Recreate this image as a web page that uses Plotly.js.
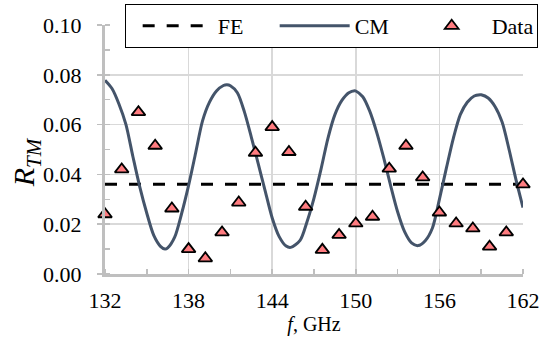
<!DOCTYPE html>
<html>
<head>
<meta charset="utf-8">
<script src="https://cdn.plot.ly/plotly-3.0.1.min.js"></script>
<style>html,body{margin:0;padding:0;background:#fff;}#chart{width:552px;height:339px;}</style>
</head>
<body>
<div id="chart"></div>
<script>
// FE (finite element) result: constant reflection
const feFreq = [132, 162];
const feR = [0.036, 0.036];

// CM (coupled-mode) curve
const cmFreq = [132, 132.5, 133, 133.5, 134, 134.5, 135, 135.5, 136, 136.31, 136.5, 137, 137.5, 138, 138.5, 139, 139.5, 140, 140.5, 140.75,
  141, 141.5, 142, 142.5, 143, 143.5, 144, 144.5, 145, 145.33, 146, 146.5, 147, 147.5, 148, 148.5, 149, 149.5, 149.92,
  150, 150.5, 151, 151.5, 152, 152.5, 153, 153.5, 154, 154.47, 155, 155.5, 156, 156.5, 157, 157.5, 158, 158.5, 158.93,
  159, 159.5, 160, 160.5, 161, 161.5, 162];
const cmR = [0.0778, 0.0745, 0.0683, 0.0601, 0.0472, 0.0349, 0.0244, 0.0155, 0.0110, 0.0100, 0.0105, 0.0148, 0.0243, 0.0356, 0.0485, 0.0615, 0.0690, 0.0735, 0.0757, 0.0760,
  0.0756, 0.0728, 0.0652, 0.0550, 0.0442, 0.0333, 0.0225, 0.0150, 0.0112, 0.0107, 0.0135, 0.0210, 0.0305, 0.0420, 0.0545, 0.0640, 0.0697, 0.0728, 0.0736,
  0.0735, 0.0712, 0.0654, 0.0569, 0.0467, 0.0355, 0.0250, 0.0170, 0.0125, 0.0114, 0.0135, 0.0185, 0.0300, 0.0425, 0.0545, 0.0640, 0.0690, 0.0715, 0.0720,
  0.0720, 0.0707, 0.0672, 0.0610, 0.0500, 0.0378, 0.0267];

// Measured data points
const dataFreq = [132, 133.2, 134.4, 135.6, 136.8, 138, 139.2, 140.4, 141.6, 142.8, 144, 145.2, 146.4, 147.6, 148.8, 150, 151.2, 152.4, 153.6, 154.8, 156, 157.2, 158.4, 159.6, 160.8, 162];
const dataR = [0.0240, 0.0420, 0.0650, 0.0515, 0.0263, 0.0100, 0.0063, 0.0167, 0.0287, 0.0487, 0.0590, 0.0490, 0.0270, 0.0097, 0.0157, 0.0203, 0.0230, 0.0423, 0.0515, 0.0388, 0.0247, 0.0203, 0.0183, 0.0110, 0.0167, 0.0360];

const xTicks = [132, 138, 144, 150, 156, 162];
const yTicks = [0, 0.02, 0.04, 0.06, 0.08, 0.10];

const serif = '"Liberation Serif", "Times New Roman", Times, serif';

const traces = [
  {x: feFreq, y: feR, name: 'FE', mode: 'lines', type: 'scatter', legendrank: 1, cliponaxis: false,
   line: {color: '#000000', width: 3, dash: '12px,12px'}},
  {x: cmFreq, y: cmR, name: 'CM', mode: 'lines', type: 'scatter', legendrank: 2, cliponaxis: false,
   line: {color: '#44546a', width: 3, shape: 'spline', smoothing: 0.8}},
  {x: dataFreq, y: dataR, name: 'Data', mode: 'markers', type: 'scatter', legendrank: 3, cliponaxis: false,
   marker: {symbol: 'triangle-up', size: 12, color: '#ff7c80', line: {color: '#000000', width: 1.8}}}
];

const layout = {
  width: 552, height: 339,
  margin: {l: 105, r: 29, t: 25, b: 65, autoexpand: false},
  paper_bgcolor: '#ffffff', plot_bgcolor: '#ffffff',
  font: {family: serif, size: 22, color: '#000000'},
  showlegend: true,
  legend: {orientation: 'h', x: 1.0351, y: 1.0843, xanchor: 'right', yanchor: 'top',
    bgcolor: '#ffffff', bordercolor: '#000000', borderwidth: 1,
    font: {family: serif, size: 22, color: '#000000'}, itemwidth: 70, indentation: 12,
    entrywidth: 40, entrywidthmode: 'pixels', traceorder: 'normal'},
  xaxis: {range: [132, 162], tickvals: xTicks, ticktext: xTicks.map(String),
    showgrid: true, gridcolor: '#d9d9d9', gridwidth: 1.5, zeroline: false,
    showline: true, linecolor: '#bfbfbf', linewidth: 3, ticks: '', ticklabelstandoff: 5,
    minor: {dtick: 3, tick0: 132, ticks: 'inside', ticklen: 5, tickcolor: '#bfbfbf', tickwidth: 1.5, showgrid: false},
    tickfont: {family: serif, size: 22, color: '#000000'},
    title: {text: '<i>f</i>, GHz', font: {family: serif, size: 20, color: '#000000'}, standoff: 0}},
  yaxis: {range: [0, 0.1], tickvals: yTicks, ticktext: yTicks.map(v => v.toFixed(2)),
    showgrid: true, gridcolor: '#d9d9d9', gridwidth: 1.5, zeroline: false,
    showline: true, linecolor: '#bfbfbf', linewidth: 3, ticks: 'outside', ticklen: 5, tickcolor: '#bfbfbf', tickwidth: 1.5,
    ticklabelstandoff: 11,
    minor: {dtick: 0.01, tick0: 0, ticks: 'inside', ticklen: 5, tickcolor: '#bfbfbf', tickwidth: 1.5, showgrid: false},
    tickfont: {family: serif, size: 22, color: '#000000'}},
  annotations: [
    {text: '<i>R</i><sub><i>TM</i></sub>', xref: 'paper', yref: 'paper', x: -0.188, y: 0.45,
     xanchor: 'center', yanchor: 'middle', textangle: -90, showarrow: false,
     font: {family: serif, size: 30, color: '#000000'}}
  ]
};

Plotly.newPlot('chart', traces, layout, {displayModeBar: false, staticPlot: true});
</script>
</body>
</html>
